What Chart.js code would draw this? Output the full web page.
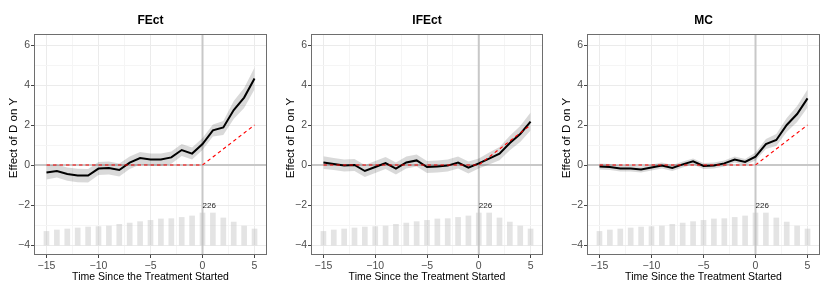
<!DOCTYPE html>
<html>
<head>
<meta charset="utf-8">
<script src="https://cdn.jsdelivr.net/npm/chart.js@4.4.0/dist/chart.umd.min.js"></script>
<style>
html, body { margin: 0; padding: 0; background: #fff; }
#wrap { display: flex; width: 830px; height: 293px; }
.panel { height: 293px; }
</style>
</head>
<body>
<div id="wrap">
  <div class="panel"><canvas id="c1" width="277" height="293"></canvas></div>
  <div class="panel"><canvas id="c2" width="276" height="293"></canvas></div>
  <div class="panel"><canvas id="c3" width="277" height="293"></canvas></div>
</div>
<script>
// periodes relatives au traitement
const periods = [-15, -14, -13, -12, -11, -10, -9, -8, -7, -6, -5, -4, -3, -2, -1, 0, 1, 2, 3, 4, 5];
const counts = [96, 106, 113, 120, 127, 130, 134, 146, 155, 165, 174, 184, 186, 195, 205, 226, 226, 191, 162, 134, 113];
const trueEffect = [0, 0, 0, 0, 0, 0, 0, 0, 0, 0, 0, 0, 0, 0, 0, 0, 0.4, 0.8, 1.2, 1.6, 2.0];

const panelTitles = ['FEct', 'IFEct', 'MC'];

const fectEst = [-0.37, -0.3, -0.45, -0.52, -0.53, -0.18, -0.15, -0.25, 0.12, 0.35, 0.28, 0.27, 0.38, 0.75, 0.57, 1.05, 1.73, 1.88, 2.75, 3.37, 4.32];
const fectLow = [-0.72, -0.63, -0.79, -0.86, -0.88, -0.5, -0.47, -0.57, -0.2, 0.03, -0.04, -0.05, 0.06, 0.45, 0.27, 0.75, 1.43, 1.5, 2.3, 2.85, 3.77];
const fectHigh = [-0.02, 0.03, -0.12, -0.19, -0.2, 0.15, 0.17, 0.07, 0.42, 0.65, 0.58, 0.57, 0.68, 1.05, 0.87, 1.35, 2.03, 2.2, 3.2, 3.85, 4.87];

const ifectEst = [0.12, 0.05, -0.02, 0, -0.3, -0.1, 0.1, -0.18, 0.13, 0.23, -0.1, -0.07, -0.03, 0.12, -0.13, 0.08, 0.32, 0.57, 1.1, 1.55, 2.17];
const ifectLow = [-0.2, -0.25, -0.32, -0.3, -0.6, -0.4, -0.2, -0.48, -0.17, -0.07, -0.4, -0.37, -0.33, -0.18, -0.43, -0.17, 0.02, 0.24, 0.74, 1.15, 1.72];
const ifectHigh = [0.44, 0.35, 0.28, 0.3, 0, 0.2, 0.4, 0.12, 0.43, 0.53, 0.2, 0.23, 0.27, 0.42, 0.17, 0.33, 0.62, 0.9, 1.46, 1.95, 2.62];

const mcEst = [-0.08, -0.1, -0.18, -0.18, -0.23, -0.12, -0.03, -0.15, 0.03, 0.18, -0.05, -0.02, 0.08, 0.27, 0.15, 0.42, 1.05, 1.25, 2.0, 2.55, 3.33];
const mcLow = [-0.23, -0.25, -0.33, -0.33, -0.38, -0.27, -0.18, -0.3, -0.12, 0.03, -0.2, -0.17, -0.07, 0.12, 0, 0.22, 0.8, 0.95, 1.65, 2.15, 2.88];
const mcHigh = [0.07, 0.05, -0.03, -0.03, -0.08, 0.03, 0.12, 0, 0.18, 0.33, 0.1, 0.13, 0.23, 0.42, 0.3, 0.62, 1.3, 1.55, 2.35, 2.95, 3.78];

// graduations (majeures + mineures)
const xGrid = [-15, -12.5, -10, -7.5, -5, -2.5, 0, 2.5, 5];
const xMajor = [-15, -10, -5, 0, 5];
const yGrid = [-4, -3, -2, -1, 0, 1, 2, 3, 4, 5, 6];
const yMajor = [-4, -2, 0, 2, 4, 6];

const FONT = "'Liberation Sans', Arial, Helvetica, sans-serif";
const BAR_BASE = -4;
const BAR_MAX_H = 1.6;

const fmt = v => (v < 0 ? '\u2212' + Math.abs(v) : String(v));
const pts = arr => periods.map((x, i) => ({ x: x, y: arr[i] }));
const isMajor = (c, list) => c.tick != null && list.includes(c.tick.value);

const refLines = {
    id: 'refLines',
    beforeDatasetsDraw(chart) {
        const { ctx, chartArea: a, scales: { x, y } } = chart;
        ctx.save();
        ctx.strokeStyle = '#c8c8c8';
        ctx.lineWidth = 2;
        const x0 = x.getPixelForValue(0);
        const y0 = y.getPixelForValue(0);
        ctx.beginPath();
        ctx.moveTo(x0, a.top);
        ctx.lineTo(x0, a.bottom);
        ctx.moveTo(a.left, y0);
        ctx.lineTo(a.right, y0);
        ctx.stroke();
        ctx.restore();
    }
};

const decor = {
    id: 'decor',
    afterDraw(chart) {
        const { ctx, chartArea: a, scales: { x, y } } = chart;
        ctx.save();
        // cadre
        ctx.strokeStyle = '#6e6e6e';
        ctx.lineWidth = 1;
        ctx.strokeRect(Math.round(a.left) + 0.5, Math.round(a.top) + 0.5,
            Math.round(a.right - a.left) - 1, Math.round(a.bottom - a.top) - 1);
        // titre
        ctx.fillStyle = '#000';
        ctx.font = 'bold 12px ' + FONT;
        ctx.textAlign = 'center';
        ctx.textBaseline = 'middle';
        ctx.fillText(chart.options.panelTitle, (a.left + a.right) / 2, 21);
        // titre axe Y
        ctx.save();
        ctx.translate(13.5, 138);
        ctx.rotate(-Math.PI / 2);
        ctx.font = '11.5px ' + FONT;
        ctx.fillText('Effect of D on Y', 0, 0);
        ctx.restore();
        // effectif max
        const maxCount = Math.max(...counts);
        const iMax = counts.indexOf(maxCount);
        ctx.font = '8px ' + FONT;
        ctx.fillStyle = '#222';
        ctx.textAlign = 'left';
        ctx.fillText(String(maxCount), x.getPixelForValue(periods[iMax]), y.getPixelForValue(-2.05));
        ctx.restore();
    }
};

function makePanel(id, title, est, low, high) {
    const ctx = document.getElementById(id).getContext('2d');
    const maxCount = Math.max(...counts);
    return new Chart(ctx, {
        type: 'line',
        data: {
            datasets: [
                {
                    type: 'bar',
                    data: periods.map((x, i) => ({ x: x, y: [BAR_BASE, BAR_BASE + counts[i] / maxCount * BAR_MAX_H] })),
                    backgroundColor: 'rgba(190,190,190,0.42)',
                    borderWidth: 0,
                    barThickness: 5,
                    grouped: false,
                    order: 5
                },
                {
                    data: pts(low),
                    borderWidth: 0,
                    pointRadius: 0,
                    fill: false,
                    order: 4
                },
                {
                    data: pts(high),
                    borderWidth: 0,
                    pointRadius: 0,
                    fill: '-1',
                    backgroundColor: 'rgba(0,0,0,0.15)',
                    order: 3
                },
                {
                    data: pts(est),
                    borderColor: '#000',
                    borderWidth: 2,
                    pointRadius: 0,
                    tension: 0,
                    order: 2
                },
                {
                    data: pts(trueEffect),
                    borderColor: '#ff0000',
                    borderWidth: 1.1,
                    borderDash: [3.5, 3],
                    pointRadius: 0,
                    order: 1
                }
            ]
        },
        options: {
            panelTitle: title,
            responsive: false,
            animation: false,
            layout: { padding: { top: 34, right: 10, left: 0, bottom: 0 } },
            plugins: {
                legend: { display: false },
                tooltip: { enabled: false }
            },
            scales: {
                x: {
                    type: 'linear',
                    offset: false,
                    min: -16.2,
                    max: 6.2,
                    afterBuildTicks: ax => { ax.ticks = xGrid.map(v => ({ value: v })); },
                    afterFit: ax => { ax.height = 38; },
                    ticks: {
                        autoSkip: false,
                        maxRotation: 0,
                        padding: 2,
                        color: '#4d4d4d',
                        font: { family: FONT, size: 10.5 },
                        callback: v => xMajor.includes(v) ? fmt(v) : ''
                    },
                    grid: {
                        offset: false,
                        color: c => isMajor(c, xMajor) ? '#ebebeb' : '#f5f5f5',
                        tickColor: c => isMajor(c, xMajor) ? '#444' : 'rgba(0,0,0,0)',
                        tickLength: 3
                    },
                    border: { display: false },
                    title: {
                        display: true,
                        text: 'Time Since the Treatment Started',
                        color: '#000',
                        font: { family: FONT, size: 10.5 },
                        padding: { top: 0, bottom: 10 }
                    }
                },
                y: {
                    min: -4.5,
                    max: 6.55,
                    afterBuildTicks: ax => { ax.ticks = yGrid.map(v => ({ value: v })); },
                    afterFit: ax => { ax.width = 34; },
                    ticks: {
                        autoSkip: false,
                        padding: 1,
                        color: '#4d4d4d',
                        font: { family: FONT, size: 10.5 },
                        callback: v => yMajor.includes(v) ? fmt(v) : ''
                    },
                    grid: {
                        color: c => isMajor(c, yMajor) ? '#ebebeb' : '#f5f5f5',
                        tickColor: c => isMajor(c, yMajor) ? '#444' : 'rgba(0,0,0,0)',
                        tickLength: 3
                    },
                    border: { display: false }
                }
            }
        },
        plugins: [refLines, decor]
    });
}

makePanel('c1', panelTitles[0], fectEst, fectLow, fectHigh);
makePanel('c2', panelTitles[1], ifectEst, ifectLow, ifectHigh);
makePanel('c3', panelTitles[2], mcEst, mcLow, mcHigh);
</script>
</body>
</html>
